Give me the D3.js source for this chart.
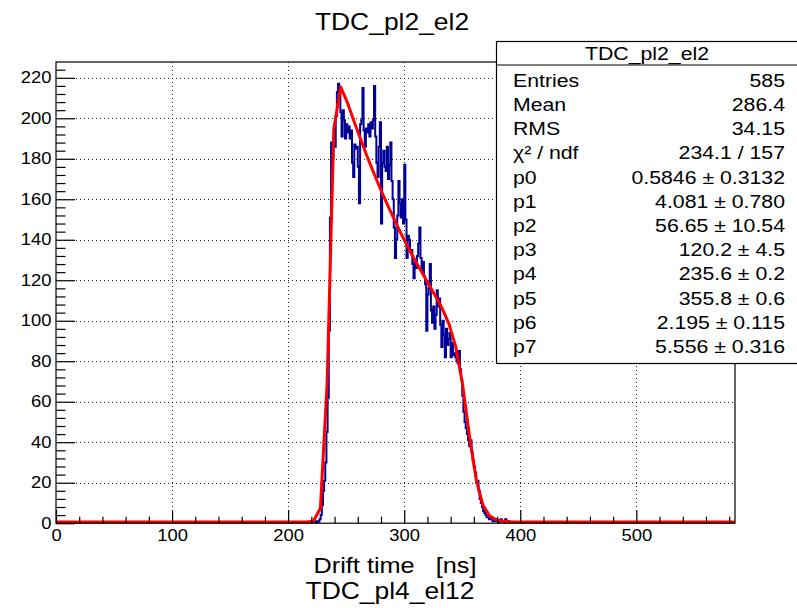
<!DOCTYPE html>
<html>
<head>
<meta charset="utf-8">
<script src="https://cdn.jsdelivr.net/npm/d3@7"></script>
<style>
body { margin: 0; background: #fff; }
text { font-family: "Liberation Sans", Arial, Helvetica, sans-serif; fill: #000; white-space: pre; }
</style>
</head>
<body>
<script>

// histogram TDC_pl2_el2, 1 ns bins from 0 to 585, non-empty part starts at binLow
var xMin = 0, xMax = 585
var yMax = 227.8
var binLow = 222
var counts = [
        0, 0, 1, 0, 1, 2, 4, 9, 16, 21, 30, 45, 62, 95, 151, 188, 180, 192, 186, 201,
        213, 217, 214, 203, 191, 204, 199, 190, 197, 193, 196, 190, 194, 178, 171, 187, 185, 186, 176, 158,
        197, 199, 215, 194, 186, 195, 193, 197, 191, 198, 195, 199, 216, 191, 178, 171, 186, 198, 148, 178,
        184, 176, 174, 186, 170, 177, 188, 169, 160, 146, 131, 140, 152, 169, 158, 151, 160, 148, 177, 150,
        131, 142, 140, 134, 135, 128, 121, 130, 126, 132, 138, 146, 131, 125, 129, 122, 118, 95, 113, 116,
        128, 105, 99, 107, 96, 103, 115, 107, 111, 98, 87, 100, 93, 82, 96, 88, 91, 94, 82, 89,
        83, 84, 82, 80, 79, 85, 76, 71, 63, 55, 50, 47, 44, 41, 38, 41, 35, 31, 28, 25,
        20, 21, 16, 12, 10, 8, 6, 5, 4, 3, 3, 2, 3, 2, 1, 2, 1, 2, 1, 0,
        1, 2, 1, 1, 0, 2, 1, 0, 1
]

// fit curve as drawn (polyline points)
var fitX = [0, 204.4, 210.2, 216.1, 221.9, 227.8, 233.6, 239.4, 245.3, 251.1, 257.0, 262.8, 268.6, 274.5,
        280.3, 286.2, 292.0, 297.8, 303.7, 309.5, 315.4, 321.2, 327.0, 332.9, 338.7, 344.6, 350.4, 356.2,
        362.1, 367.9, 373.8, 379.6, 385.4, 391.3, 397.1, 403.0, 585]
var fitY = [0.58, 0.59, 0.59, 0.62, 1.10, 7.4, 69.2, 194.8, 215.4, 207.7, 198.2, 189.1, 180.3, 172.0,
        164.0, 156.5, 149.3, 142.4, 135.9, 129.6, 123.7, 117.9, 112.1, 105.9, 98.2, 86.7, 68.1, 43.2,
        21.3, 8.8, 3.5, 1.6, 0.92, 0.70, 0.62, 0.60, 0.58]

var xTicks = [0, 100, 200, 300, 400, 500]
var yTicks = [0, 20, 40, 60, 80, 100, 120, 140, 160, 180, 200, 220]

var title = "TDC_pl2_el2"
var xTitle = "Drift time   [ns]"
var footer = "TDC_pl4_el12"

var statTitle = "TDC_pl2_el2"
var statLabels = ["Entries", "Mean", "RMS", "\u03c7\u00b2 / ndf", "p0", "p1", "p2", "p3", "p4", "p5", "p6", "p7"]
var statValues = ["585", "286.4", "34.15", "234.1 / 157", "0.5846 \u00b1 0.3132", "4.081 \u00b1 0.780",
        "56.65 \u00b1 10.54", "120.2 \u00b1 4.5", "235.6 \u00b1 0.2", "355.8 \u00b1 0.6",
        "2.195 \u00b1 0.115", "5.556 \u00b1 0.316"]

var W = 797, H = 608
var padL = 56, padR = 735, padT = 62, padB = 523.2
var sx = 1.15   // text in the picture is a bit wide

var svg = d3.select("body").append("svg")
        .attr("width", W)
        .attr("height", H)

var x = d3.scaleLinear().domain([xMin, xMax]).range([padL, padR])
var y = d3.scaleLinear().domain([0, yMax]).range([padB, padT])

function label(g, px, py, str, size, anchor) {
        return g.append("text")
                .attr("transform", "translate(" + px + "," + py + ") scale(" + sx + ",1)")
                .attr("text-anchor", anchor)
                .style("font-size", size + "px")
                .text(str)
}

svg.append("clipPath").attr("id", "frame")
        .append("rect")
        .attr("x", padL).attr("y", padT)
        .attr("width", padR - padL).attr("height", padB - padT)

// grid
var grid = svg.append("g").attr("class", "grid")
        .attr("stroke", "#222")
        .attr("stroke-width", 1)
        .attr("stroke-dasharray", "1,3")
grid.selectAll("line.gx").data(xTicks.filter(function(d) { return d > xMin }))
        .enter().append("line")
        .attr("x1", function(d) { return Math.round(x(d)) + 0.5 })
        .attr("x2", function(d) { return Math.round(x(d)) + 0.5 })
        .attr("y1", padT).attr("y2", padB)
grid.selectAll("line.gy").data(yTicks.filter(function(d) { return d > 0 }))
        .enter().append("line")
        .attr("y1", function(d) { return Math.round(y(d)) + 0.5 })
        .attr("y2", function(d) { return Math.round(y(d)) + 0.5 })
        .attr("x1", padL).attr("x2", padR)

// histogram as steps
var bins = []
for (var i = xMin; i < xMax; i++) {
        var k = i - binLow
        var v = (k >= 0 && k < counts.length) ? counts[k] : 0
        bins.push([i, v])
        bins.push([i + 1, v])
}

var line = d3.line()
        .x(function(d) { return x(d[0]) })
        .y(function(d) { return y(d[1]) })

var plot = svg.append("g").attr("clip-path", "url(#frame)")

plot.append("path")
        .attr("d", line(bins))
        .attr("fill", "none")
        .attr("stroke", "#000099")
        .attr("stroke-width", 2)

plot.append("path")
        .attr("d", line(fitX.map(function(v, j) { return [v, fitY[j]] })))
        .attr("fill", "none")
        .attr("stroke", "#ff0000")
        .attr("stroke-width", 3)
        .attr("stroke-linejoin", "round")

// frame
svg.append("rect")
        .attr("x", padL).attr("y", padT)
        .attr("width", padR - padL).attr("height", padB - padT)
        .attr("fill", "none")
        .attr("stroke", "#000")
        .attr("stroke-width", 1.2)

// axes, ticks pointing inwards
var xMinor = d3.range(20, xMax, 20).filter(function(d) { return d % 100 != 0 })
var yMinor = d3.range(4, yMax, 4).filter(function(d) { return d % 20 != 0 })

var xg = svg.append("g").attr("transform", "translate(0," + padB + ")")
xg.append("g").call(d3.axisBottom(x).tickValues(xMinor).tickSize(-6.5).tickSizeOuter(0).tickFormat(""))
xg.append("g").call(d3.axisBottom(x).tickValues(xTicks).tickSize(-13).tickSizeOuter(0).tickPadding(6).tickFormat(d3.format("d")))

var yg = svg.append("g").attr("transform", "translate(" + padL + ",0)")
yg.append("g").call(d3.axisLeft(y).tickValues(yMinor).tickSize(-9.5).tickSizeOuter(0).tickFormat(""))
yg.append("g").call(d3.axisLeft(y).tickValues(yTicks).tickSize(-19).tickSizeOuter(0).tickPadding(4).tickFormat(d3.format("d")))

svg.selectAll(".domain").remove()
svg.selectAll(".tick line").attr("stroke", "#000").attr("stroke-width", 1.2)
svg.selectAll(".tick text")
        .attr("font-family", null)
        .style("font-size", "16px")
        .attr("transform", "scale(" + sx + ",1)")

// titles
label(svg, 392, 30, title, 23, "middle")
label(svg, 395, 573, xTitle, 22, "middle")
label(svg, 390, 599, footer, 23, "middle")

// stats box
var stats = svg.append("g").attr("class", "stats")
stats.append("rect")
        .attr("x", 496.5).attr("y", 41.5)
        .attr("width", 310).attr("height", 322)
        .attr("fill", "#fff")
        .attr("stroke", "#000")
        .attr("stroke-width", 1.2)
stats.append("line")
        .attr("x1", 496.5).attr("x2", W)
        .attr("y1", 65).attr("y2", 65)
        .attr("stroke", "#000")
        .attr("stroke-width", 1.2)
label(stats, 647, 60, statTitle, 18.5, "middle")

stats.selectAll("g.row").data(statLabels)
        .enter().append("g")
        .attr("class", "row")
        .each(function(d, j) {
                var row = d3.select(this)
                var by = 86.7 + j * 24.2
                label(row, 513, by, d, 18.5, "start")
                label(row, 785, by, statValues[j], 18.5, "end")
        })

</script>
</body>
</html>
